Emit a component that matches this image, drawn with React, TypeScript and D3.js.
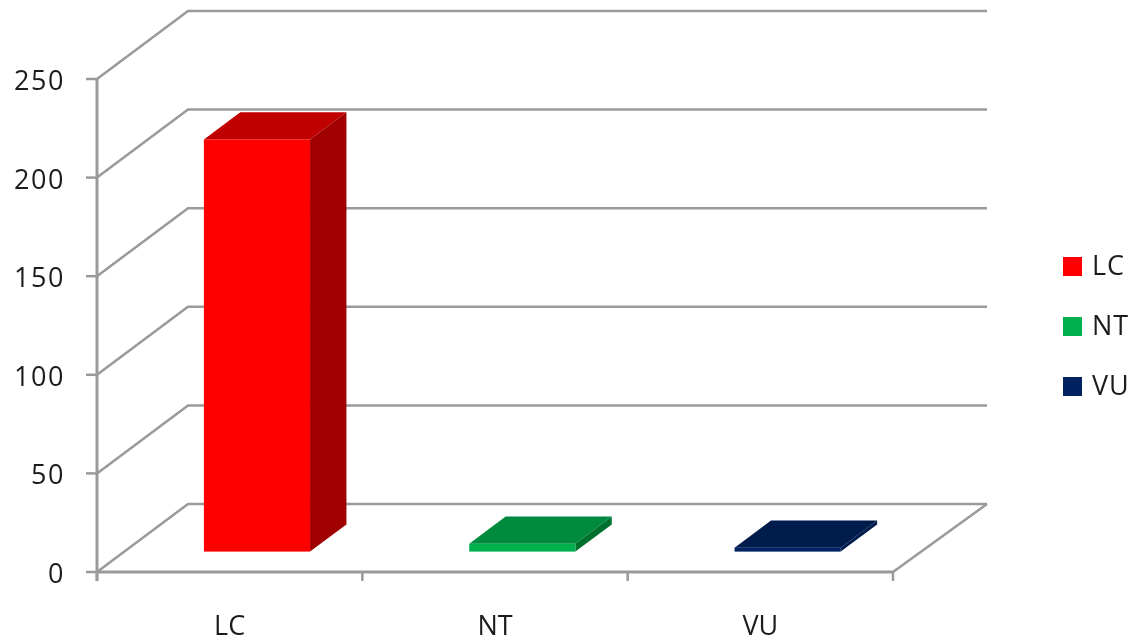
import React from "react";
import * as d3 from "d3";

const categories = ["LC", "NT", "VU"];
const values = [209, 4, 2];
const yTicks = [0, 50, 100, 150, 200, 250];
const frontColors = ["#FF0000", "#00B050", "#002060"];
const topColors = ["#C00000", "#008A3E", "#001A4D"];
const sideColors = ["#A00000", "#00702F", "#001A4D"];

const width = 1138, height = 642;
const depthX = 91, depthY = -68;
const axisColor = "#9A9A9A";
const textColor = "#1C1C1C";
const fontFamily = "'Open Sans', sans-serif";

const x = d3.scaleBand<string>().domain(categories).range([97, 893]);
const y = d3.scaleLinear().domain([0, 250]).range([572, 79]);

const pts = (list: [number, number][]) => list.map(p => p.join(",")).join(" ");

export default function App() {
    const line = d3.line();
    const x0 = x.range()[0], x1 = x.range()[1];
    const barW = x.bandwidth() * 0.4;
    // bars sit between these fractions of the floor depth
    const d0 = 0.3, d1 = 0.7;

    return (
        <svg width={width} height={height} style={{ position: "absolute", left: 0, top: 0, background: "#fff" }}>
            <defs>
                <filter id="soft" x="0" y="0" width="100%" height="100%">
                    <feGaussianBlur stdDeviation={0.5} />
                </filter>
            </defs>
            <g filter="url(#soft)">
                <rect width={width} height={height} fill="#fff" />
                {/* back wall + left wall */}
                {yTicks.map(t => (
                    <g key={t}>
                        <path d={line([[x0, y(t)], [x0 + depthX, y(t) + depthY], [x1 + depthX + 3, y(t) + depthY]]) as string}
                            fill="none" stroke={axisColor} strokeWidth={2.5} />
                        <line x1={x0 - 11} x2={x0} y1={y(t)} y2={y(t)} stroke={axisColor} strokeWidth={2.5} />
                        <text x={65} y={y(t) + 11} textAnchor="end" fontFamily={fontFamily} fontSize={27} letterSpacing={1.6} fill={textColor}>{t}</text>
                    </g>
                ))}
                {/* floor right edge and front edge */}
                <line x1={x1} y1={y(0)} x2={x1 + depthX + 3} y2={y(0) + depthY} stroke={axisColor} strokeWidth={2.5} />
                <line x1={x0} x2={x1} y1={y(0)} y2={y(0)} stroke={axisColor} strokeWidth={3} />
                <line x1={x0} x2={x0} y1={y(250)} y2={y(0) + 9} stroke={axisColor} strokeWidth={3} />
                {d3.range(0, categories.length + 1).map(i => {
                    const tx = x0 + i * x.step();
                    return <line key={i} x1={tx} x2={tx} y1={y(0)} y2={y(0) + 9} stroke={axisColor} strokeWidth={2.5} />;
                })}
                {/* bars */}
                {categories.map((c, i) => {
                    const left = (x(c) as number) + (x.bandwidth() - barW) / 2 + depthX * d0;
                    const right = left + barW;
                    const bottom = y(0) + depthY * d0;
                    const top = y(values[i]) + depthY * d0;
                    const dx = depthX * (d1 - d0), dy = depthY * (d1 - d0);
                    return (
                        <g key={c}>
                            <polygon points={pts([[left, top], [right, top], [right + dx, top + dy], [left + dx, top + dy]])} fill={topColors[i]} />
                            <polygon points={pts([[right, top], [right + dx, top + dy], [right + dx, bottom + dy], [right, bottom]])} fill={sideColors[i]} />
                            <rect x={left} y={top} width={barW} height={bottom - top} fill={frontColors[i]} />
                        </g>
                    );
                })}
                {/* category labels */}
                {categories.map(c => (
                    <text key={c} x={(x(c) as number) + x.bandwidth() / 2} y={635} textAnchor="middle" fontFamily={fontFamily} fontSize={27} fill={textColor}>{c}</text>
                ))}
                {/* legend */}
                {categories.map((c, i) => (
                    <g key={c}>
                        <rect x={1063} y={257 + i * 60} width={19} height={19} fill={frontColors[i]} />
                        <text x={1092} y={275 + i * 60} fontFamily={fontFamily} fontSize={27} letterSpacing={0.8} fill={textColor}>{c}</text>
                    </g>
                ))}
            </g>
        </svg>
    );
}
